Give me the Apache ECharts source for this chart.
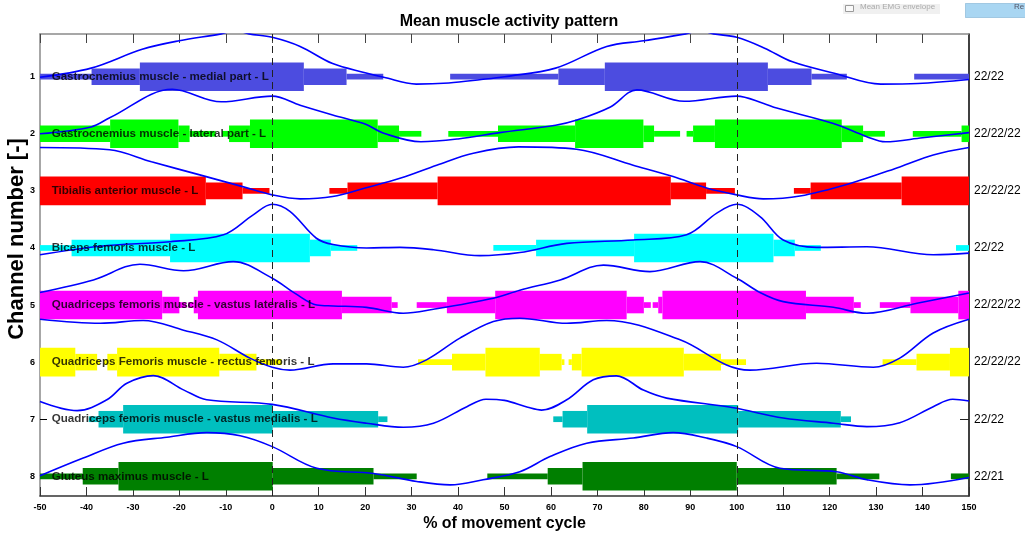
<!DOCTYPE html>
<html>
<head>
<meta charset="utf-8">
<script src="https://cdn.jsdelivr.net/npm/echarts@6.0.0/dist/echarts.min.js"></script>
<style>
html,body{margin:0;padding:0;background:#fff;}
#chart{width:1025px;height:533px;}
</style>
</head>
<body>
<div id="chart"></div>
<script>
// ---------- data ----------
const X_TICKS = [-50, 150, 10];
const CHANNEL_NAMES = [
  'Gastrocnemius muscle - medial part - L',
  'Gastrocnemius muscle - lateral part - L',
  'Tibialis anterior muscle - L',
  'Biceps femoris muscle - L',
  'Quadriceps femoris muscle - vastus lateralis - L',
  'Quadriceps Femoris muscle - rectus femoris - L',
  'Quadriceps femoris muscle - vastus medialis - L',
  'Gluteus maximus muscle - L'
];
const RIGHT_LABELS = ['22/22', '22/22/22', '22/22/22', '22/22', '22/22/22', '22/22/22', '22/22', '22/21'];
const BAR_COLORS = ['#4c4ce0', '#00ff00', '#ff0000', '#00ffff', '#ff00ff', '#ffff00', '#00bfbf', '#007f00'];

// activity segments per channel: [start %, end %, level (1 low, 2 mid, 3 high)]
const seg1 = [[-50,-38.9,1],[-38.9,-28.5,2],[-28.5,6.8,3],[6.8,16,2],[16,23.9,1],[38.3,61.6,1],[61.6,71.6,2],[71.6,106.7,3],[106.7,116.1,2],[116.1,123.7,1],[138.2,150,1]];
const seg2 = [[-50,-34.9,2],[-34.9,-20.2,3],[-20.2,-17.8,2],[-17.8,-12.2,1],[-10.8,-9.3,1],[-9.3,-4.8,2],[-4.8,22.7,3],[22.7,27.3,2],[27.3,32.1,1],[37.9,48.6,1],[48.6,65.2,2],[65.2,79.9,3],[79.9,82.2,2],[82.2,87.8,1],[89.2,90.6,1],[90.6,95.3,2],[95.3,122.6,3],[122.6,127.2,2],[127.2,131.9,1],[137.9,148.4,1],[148.4,150,2]];
const seg3 = [[-50,-14.3,3],[-14.3,-6.4,2],[-6.4,-0.6,1],[12.3,16.2,1],[16.2,35.6,2],[35.6,85.8,3],[85.8,93.4,2],[93.4,99.6,1],[112.3,115.9,1],[115.9,135.5,2],[135.5,150,3]];
const seg4 = [[-50,-43.2,1],[-43.2,-22,2],[-22,8.1,3],[8.1,12.6,2],[12.6,18.3,1],[47.6,56.8,1],[56.8,77.9,2],[77.9,107.9,3],[107.9,112.5,2],[112.5,118.1,1],[147.2,150,1]];
const seg5 = [[-50,-23.7,3],[-23.7,-20,2],[-20,-18.5,1],[-18.1,-16.9,1],[-16.9,-16,2],[-16,15,3],[15,25.7,2],[25.7,27,1],[31.1,37.6,1],[37.6,48,2],[48,76.3,3],[76.3,80,2],[80,81.5,1],[81.9,83.1,1],[83.1,84,2],[84,114.9,3],[114.9,125.2,2],[125.2,126.7,1],[130.8,137.4,1],[137.4,147.7,2],[147.7,150,3]];
const seg6 = [[-50,-42.4,3],[-42.4,-37.7,2],[-37.7,-37.1,1],[-36.2,-35.5,1],[-35.5,-33.4,2],[-33.4,-11.4,3],[-11.4,-3.4,2],[-3.4,2,1],[31.4,38.7,1],[38.7,45.9,2],[45.9,57.6,3],[57.6,62.3,2],[62.3,62.9,1],[63.8,64.5,1],[64.5,66.6,2],[66.6,88.6,3],[88.6,96.6,2],[96.6,102,1],[131.4,138.7,1],[138.7,145.9,2],[145.9,150,3]];
const seg7 = [[-39.5,-37.4,1],[-37.4,-32.1,2],[-32.1,0.1,3],[0.1,22.8,2],[22.8,24.8,1],[60.5,62.5,1],[62.5,67.8,2],[67.8,100.3,3],[100.3,122.4,2],[122.4,124.6,1]];
const seg8 = [[-50,-40.8,1],[-40.8,-33.1,2],[-33.1,0.1,3],[0.1,21.8,2],[21.8,31.1,1],[46.3,59.3,1],[59.3,66.8,2],[66.8,100,3],[100,121.5,2],[121.5,130.7,1],[146.1,150,1]];
const SEGMENTS = [seg1, seg2, seg3, seg4, seg5, seg6, seg7, seg8];

// mean envelope curves, [x %, y in channel units]
const curve1 = [[-50,1.01],[-39,0.85],[-28,0.52],[-20,0.37],[-11,0.25],[-8,0.19],[-5,0.25],[0,0.31],[6,0.47],[13,0.77],[20,0.93],[24,1.01],[31,1.13],[38,1.11],[45,1.05],[50,1.0],[61,0.85],[72,0.47],[80,0.37],[89,0.25],[92,0.19],[95,0.25],[100,0.31],[106,0.50],[112,0.74],[121,0.94],[131,1.13],[139,1.12],[150,1.05]];
const curve2 = [[-50,2.00],[-39,1.88],[-35,1.72],[-21.5,1.22],[-11,1.44],[0,1.34],[6,1.50],[13,1.67],[20,1.83],[24,1.99],[32,2.14],[40,2.09],[49,1.98],[61,1.85],[65.6,1.76],[72.8,1.53],[78.5,1.23],[88.7,1.43],[100,1.34],[105.8,1.47],[108.6,1.55],[120.8,1.82],[128,2.05],[132,2.14],[140,2.07],[150,1.98]];
const curve3 = [[-50,2.24],[-35,2.28],[-26,2.49],[-15.6,2.72],[-6.2,2.93],[0,3.07],[6,3.14],[13,3.10],[20,2.95],[27.5,2.78],[35.4,2.55],[43.3,2.34],[53,2.23],[65.5,2.27],[77.7,2.55],[86.3,2.75],[93.5,2.95],[100,3.07],[105.7,3.14],[113.6,3.09],[124.4,2.87],[135.1,2.58],[142.3,2.37],[150,2.24]];
const curve4 = [[-50,4.12],[-37,3.97],[-22,3.89],[-10.5,3.77],[-4.1,3.42],[0,3.235],[3.8,3.36],[9.5,3.83],[13.1,3.94],[20.3,4.0],[27.5,3.99],[34.7,4.03],[44.7,4.135],[53.3,4.08],[63.4,3.92],[77.7,3.86],[89.2,3.77],[95.7,3.39],[100,3.235],[105,3.45],[110,3.86],[117.2,3.99],[128,3.98],[142.3,4.12],[150,4.09]];
const curve5 = [[-50,4.78],[-38.5,4.56],[-28.5,4.285],[-19.1,4.40],[-8.4,4.24],[0,4.53],[5,4.80],[9.6,5.0],[13.1,5.016],[20.3,5.04],[28.2,5.144],[34.7,5.074],[47.6,4.88],[53.3,4.74],[62,4.56],[71.3,4.30],[81.3,4.415],[92.1,4.24],[100,4.53],[105,4.78],[110,4.94],[120.8,5.04],[128,5.144],[138.8,4.97],[150,4.79]];
const curve6 = [[-50,5.25],[-37,5.32],[-27.8,5.27],[-19.1,5.44],[-11.9,5.61],[-4.8,5.93],[0,6.09],[3.8,6.14],[13.1,6.03],[20.3,6.03],[28.2,6.09],[33.2,5.96],[40.4,5.58],[47.6,5.29],[53.3,5.23],[63.4,5.32],[72,5.27],[87.8,5.61],[97.8,6.05],[102.8,6.14],[117.2,6.02],[129.4,6.09],[135.1,5.93],[142.3,5.49],[150,5.25]];
const curve7 = [[-50,6.69],[-42,6.85],[-35.6,6.66],[-31.3,6.37],[-25.6,6.236],[-19,6.49],[-14.1,6.66],[0,6.74],[13.1,6.98],[20.3,7.07],[28.2,7.14],[34.7,7.07],[41.9,6.78],[46,6.65],[50,6.67],[55,6.79],[58,6.84],[63.4,6.66],[69.1,6.31],[74.1,6.24],[79.9,6.49],[84.9,6.63],[99.3,6.80],[110,6.98],[120.8,7.07],[128,7.13],[135.1,7.06],[142.3,6.78],[146.5,6.65],[150,6.68]];
const curve8 = [[-50,7.99],[-40.7,7.68],[-32.1,7.42],[-22.7,7.315],[-14.1,7.235],[-6.9,7.29],[0,7.48],[9.6,7.86],[21.8,7.95],[31.1,8.09],[38.3,8.15],[45.4,8.06],[53.3,7.92],[59.8,7.655],[67.7,7.42],[77.7,7.33],[86.3,7.235],[93.5,7.33],[100,7.48],[109.3,7.86],[121.5,7.92],[128,8.06],[137.3,8.15],[150,8.02]];
const CURVES = [curve1, curve2, curve3, curve4, curve5, curve6, curve7, curve8];

const EVENT_LINES = [0, 100];
const Y_RANGE = [0.252, 8.345];

// ---------- chart ----------
const HALF = {1: 0.05, 2: 0.145, 3: 0.25}; // half thickness per level (style)
const barData = [];
SEGMENTS.forEach((segs, i) => segs.forEach(s => barData.push([s[0], s[1], i + 1, s[2]])));

const chVals = CHANNEL_NAMES.map((_, i) => i + 1);
const chart = echarts.init(document.getElementById('chart'), null, {renderer: 'canvas'});
const FONT = 'Liberation Sans, Arial, sans-serif';

const series = [];
series.push({
  type: 'custom',
  xAxisIndex: 0, yAxisIndex: 0,
  clip: true,
  z: 2,
  renderItem: function (params, api) {
    const x0 = api.value(0), x1 = api.value(1), ch = api.value(2), lv = api.value(3);
    const a = api.coord([x0, ch - HALF[lv]]);
    const b = api.coord([x1, ch + HALF[lv]]);
    return {
      type: 'rect',
      shape: {x: a[0], y: Math.min(a[1], b[1]), width: b[0] - a[0], height: Math.abs(b[1] - a[1])},
      style: {fill: BAR_COLORS[ch - 1]}
    };
  },
  encode: {x: [0, 1], y: 2},
  data: barData,
  silent: true
});
CURVES.forEach((c, i) => {
  series.push({
    type: 'line', xAxisIndex: 0, yAxisIndex: 0,
    data: c, smooth: 0.35, symbol: 'none', clip: true, z: 4,
    lineStyle: {color: '#0000ff', width: 1.6}, silent: true
  });
});
series.push({
  type: 'line', xAxisIndex: 0, yAxisIndex: 0, data: [], z: 5,
  markLine: {
    silent: true, symbol: 'none', label: {show: false},
    lineStyle: {color: '#222', type: [7, 5], width: 1},
    data: EVENT_LINES.map(v => ({xAxis: v}))
  }
});
series.push({
  type: 'scatter', xAxisIndex: 0, yAxisIndex: 0, z: 6,
  symbolSize: 0, silent: true,
  data: chVals.map(v => [-49, v]),
  label: {
    show: true, position: 'right', distance: 7,
    formatter: p => CHANNEL_NAMES[p.dataIndex],
    fontFamily: FONT, fontWeight: 'bold', fontSize: 11.6, color: '#000'
  }
});

const option = {
  animation: false,
  backgroundColor: '#fff',
  title: {
    text: 'Mean muscle activity pattern', left: 504, top: 9, textAlign: 'center',
    textStyle: {fontFamily: FONT, fontWeight: 'bold', fontSize: 16, color: '#000'}
  },
  grid: {left: 40, right: 56, top: 34, bottom: 37, containLabel: false, outerBoundsMode: 'none'},
  xAxis: [{
    type: 'value', position: 'bottom', min: X_TICKS[0], max: X_TICKS[1], interval: X_TICKS[2],
    axisLine: {show: true, onZero: false, lineStyle: {color: '#333', width: 1.5}},
    axisTick: {show: true, inside: true, length: 9, lineStyle: {color: '#333', width: 1}},
    axisLabel: {fontFamily: FONT, fontWeight: 'bold', fontSize: 9, color: '#000', margin: 7},
    splitLine: {show: false},
    name: '% of movement cycle', nameLocation: 'middle', nameGap: 20, nameMoveOverlap: false,
    nameTextStyle: {fontFamily: FONT, fontWeight: 'bold', fontSize: 16, color: '#000'}
  }, {
    type: 'value', position: 'top', min: X_TICKS[0], max: X_TICKS[1], interval: X_TICKS[2],
    axisLine: {show: true, onZero: false, lineStyle: {color: '#8a8a8a', width: 1.5}},
    axisTick: {show: true, inside: true, length: 9, lineStyle: {color: '#444', width: 1}},
    axisLabel: {show: false}, splitLine: {show: false}
  }],
  yAxis: [{
    type: 'value', position: 'left', inverse: true, min: Y_RANGE[0], max: Y_RANGE[1],
    axisLine: {show: true, onZero: false, lineStyle: {color: '#8a8a8a', width: 1.5}},
    axisTick: {show: true, inside: true, length: 7, customValues: chVals, lineStyle: {color: '#000', width: 1}},
    axisLabel: {customValues: chVals, fontFamily: FONT, fontWeight: 'bold', fontSize: 9, color: '#000', margin: 5,
      formatter: v => String(v)},
    splitLine: {show: false},
    name: 'Channel number [-]', nameLocation: 'middle', nameGap: 12, nameRotate: 90, nameMoveOverlap: false,
    nameTextStyle: {fontFamily: FONT, fontWeight: 'bold', fontSize: 22, color: '#000', padding: [0, 0, 0, 52]}
  }, {
    type: 'value', position: 'right', inverse: true, min: Y_RANGE[0], max: Y_RANGE[1],
    axisLine: {show: true, onZero: false, lineStyle: {color: '#000', width: 1.5}},
    axisTick: {show: true, inside: true, length: 9, customValues: chVals, lineStyle: {color: '#222', width: 1}},
    axisLabel: {customValues: chVals, fontFamily: FONT, fontSize: 12, color: '#000', margin: 5,
      formatter: v => RIGHT_LABELS[Math.round(v) - 1] || ''},
    splitLine: {show: false}
  }],
  graphic: [
    {type: 'rect', left: 843, top: 4, shape: {width: 97, height: 10}, style: {fill: '#f0f0f0'}, silent: true},
    {type: 'rect', left: 845, top: 5, shape: {width: 8, height: 6}, style: {fill: '#fafafa', stroke: '#9a9a9a', lineWidth: 1}, silent: true},
    {type: 'text', left: 860, top: 3, style: {text: 'Mean EMG envelope', fill: '#aaa', font: '8px Liberation Sans, Arial'}, silent: true},
    {type: 'rect', left: 965, top: 3, shape: {width: 62, height: 14}, style: {fill: '#a9d6f2', stroke: '#6ea6cc', lineWidth: 1, lineDash: [1, 1]}, silent: true},
    {type: 'text', left: 1014, top: 3, style: {text: 'Re', fill: '#556', font: '8px Liberation Sans, Arial'}, silent: true}
  ],
  series: series
};
chart.setOption(option);
</script>
</body>
</html>
